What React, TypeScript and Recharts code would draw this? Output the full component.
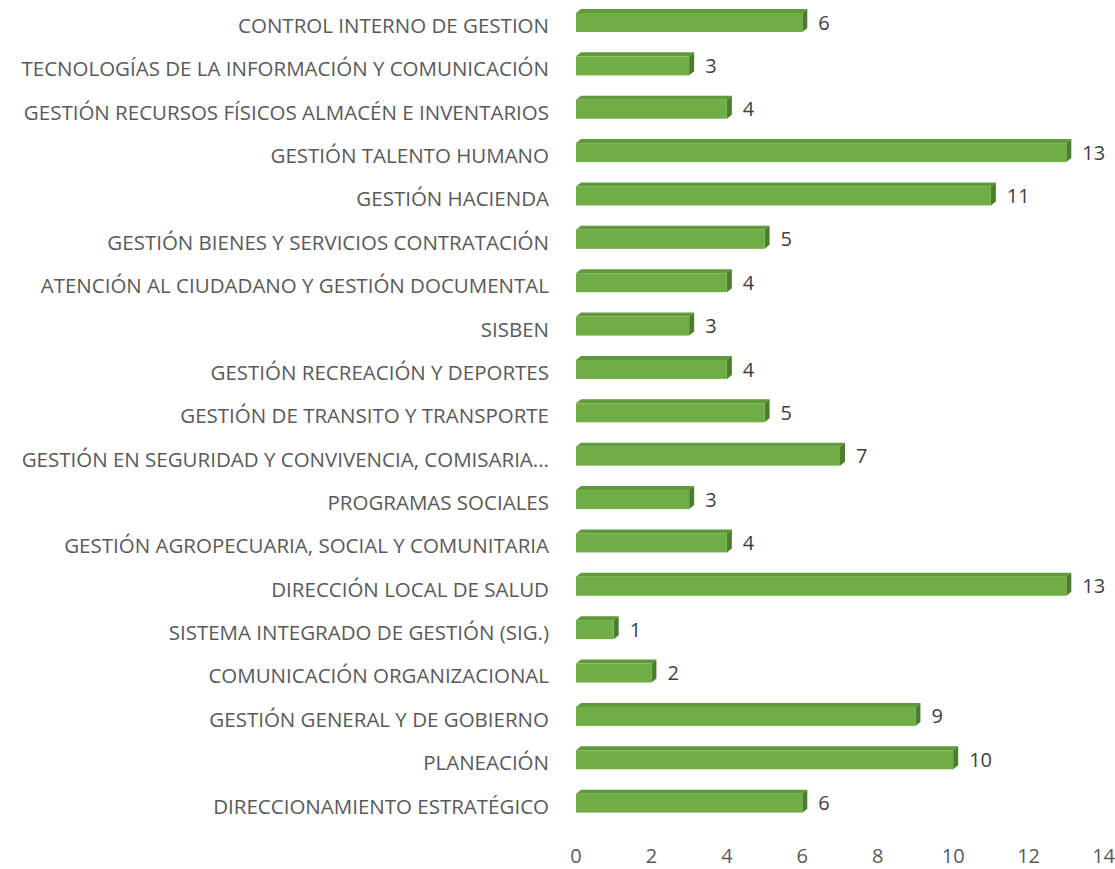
import React from "react";
import { BarChart, Bar, XAxis, YAxis, LabelList } from "recharts";

const categories = [
  "CONTROL INTERNO DE GESTION",
  "TECNOLOGÍAS DE LA INFORMACIÓN Y COMUNICACIÓN",
  "GESTIÓN RECURSOS FÍSICOS ALMACÉN E INVENTARIOS",
  "GESTIÓN TALENTO HUMANO",
  "GESTIÓN HACIENDA",
  "GESTIÓN BIENES Y SERVICIOS CONTRATACIÓN",
  "ATENCIÓN AL CIUDADANO Y GESTIÓN DOCUMENTAL",
  "SISBEN",
  "GESTIÓN RECREACIÓN Y DEPORTES",
  "GESTIÓN DE TRANSITO Y TRANSPORTE",
  "GESTIÓN EN SEGURIDAD Y CONVIVENCIA, COMISARIA...",
  "PROGRAMAS SOCIALES",
  "GESTIÓN AGROPECUARIA, SOCIAL Y COMUNITARIA",
  "DIRECCIÓN LOCAL DE SALUD",
  "SISTEMA INTEGRADO DE GESTIÓN (SIG.)",
  "COMUNICACIÓN ORGANIZACIONAL",
  "GESTIÓN GENERAL Y DE GOBIERNO",
  "PLANEACIÓN",
  "DIRECCIONAMIENTO ESTRATÉGICO",
];

const values = [6, 3, 4, 13, 11, 5, 4, 3, 4, 5, 7, 3, 4, 13, 1, 2, 9, 10, 6];

const xTicks = [0, 2, 4, 6, 8, 10, 12, 14];

const data = categories.map((name, i) => ({ name, value: values[i] }));

const FONT = "'Open Sans', sans-serif";

// 3D-looking bar: front face, top face and right side
function Bar3D(props: any) {
  const { x, y, width, height } = props;
  if (width == null || height == null) return null;
  const dx = 5;
  const dy = 4;
  const front = "#70AD47";
  const top = "#5E9A39";
  const side = "#4C7C2C";
  return (
    <g>
      <polygon
        points={`${x},${y} ${x + dx},${y - dy} ${x + width + dx},${y - dy} ${x + width},${y}`}
        fill={top}
      />
      <polygon
        points={`${x + width},${y} ${x + width + dx},${y - dy} ${x + width + dx},${y + height - dy} ${x + width},${y + height}`}
        fill={side}
      />
      <rect x={x} y={y} width={width} height={height} fill={front} />
    </g>
  );
}

export default function App() {
  return (
    <div style={{ position: "absolute", left: 0, top: 0, background: "#fff" }}>
      <BarChart
        width={1115}
        height={869}
        data={data}
        layout="vertical"
        margin={{ top: 1, right: 11, left: 0, bottom: 14 }}
      >
        <XAxis
          type="number"
          domain={[0, 14]}
          ticks={xTicks}
          axisLine={false}
          tickLine={false}
          tickSize={0}
          tickMargin={24}
          tick={{ fontSize: 20, fill: "#595959", fontFamily: FONT }}
        />
        <YAxis
          type="category"
          dataKey="name"
          width={576}
          axisLine={false}
          tickLine={false}
          tickSize={0}
          tickMargin={27}
          interval={0}
          tick={{ fontSize: 20.5, fill: "#595959", fontFamily: FONT, dy: 3 }}
        />
        <Bar dataKey="value" shape={<Bar3D />} barSize={19} isAnimationActive={false}>
          <LabelList
            dataKey="value"
            position="right"
            offset={16}
            style={{ fontSize: 20, fill: "#404040", fontFamily: FONT }}
          />
        </Bar>
      </BarChart>
    </div>
  );
}
